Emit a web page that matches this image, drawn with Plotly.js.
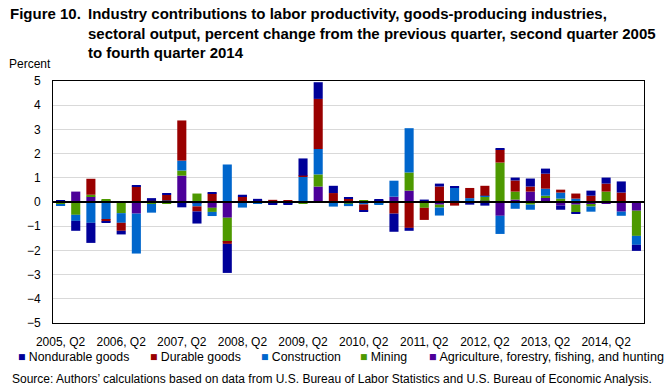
<!DOCTYPE html>
<html>
<head>
<meta charset="utf-8">
<script src="https://cdn.plot.ly/plotly-3.0.1.min.js"></script>
<style>
html,body{margin:0;padding:0;background:#fff;}
#chart{width:671px;height:391px;}
</style>
</head>
<body>
<div id="chart"></div>
<script>
// Quarters: 2005 Q2 .. 2014 Q4
const quarters = [
  "2005, Q2","2005, Q3","2005, Q4",
  "2006, Q1","2006, Q2","2006, Q3","2006, Q4",
  "2007, Q1","2007, Q2","2007, Q3","2007, Q4",
  "2008, Q1","2008, Q2","2008, Q3","2008, Q4",
  "2009, Q1","2009, Q2","2009, Q3","2009, Q4",
  "2010, Q1","2010, Q2","2010, Q3","2010, Q4",
  "2011, Q1","2011, Q2","2011, Q3","2011, Q4",
  "2012, Q1","2012, Q2","2012, Q3","2012, Q4",
  "2013, Q1","2013, Q2","2013, Q3","2013, Q4",
  "2014, Q1","2014, Q2","2014, Q3","2014, Q4"
];
const tickLabels = ["2005, Q2","2006, Q2","2007, Q2","2008, Q2","2009, Q2",
                    "2010, Q2","2011, Q2","2012, Q2","2013, Q2","2014, Q2"];
const yTicks = [-5,-4,-3,-2,-1,0,1,2,3,4,5];

const nondurable = [0.04,-0.41,-0.83,-0.04,-0.15,0.04,0.11,0.05,-0.22,-0.50,0.04,-1.20,0.08,0.08,-0.03,-0.04,0.71,0.69,0.30,0.04,-0.04,0.04,-0.75,-0.12,0.10,0.12,0.04,-0.11,-0.15,0.04,0.12,0.33,0.21,-0.17,-0.04,0.21,0.25,0.46,-0.25];
const durable    = [0.02,0.00,0.66,-0.08,-0.33,0.60,0.05,0.24,1.66,-0.21,0.35,-0.08,0.22,0.04,0.09,0.05,0.05,2.07,0.37,0.11,-0.25,0.05,-0.48,-1.07,-0.50,0.64,-0.15,0.42,0.41,0.54,0.46,0.21,0.62,0.12,0.21,0.26,0.33,0.39,0.00];
const construction = [-0.07,-0.25,-0.86,-0.73,-0.40,-1.65,-0.36,0.02,0.41,-0.13,-0.17,1.55,-0.19,-0.06,-0.02,-0.03,1.04,1.05,-0.19,-0.10,-0.10,-0.05,0.66,1.83,0.00,-0.33,0.54,0.12,0.04,-0.75,-0.28,-0.21,0.29,0.25,0.14,-0.21,0.00,-0.17,-0.37];
const mining     = [-0.06,-0.53,0.08,0.04,-0.46,0.04,-0.06,-0.07,0.21,0.35,-0.17,-1.00,-0.04,0.01,-0.04,-0.04,-0.06,0.50,0.00,-0.07,0.05,-0.05,0.00,0.75,-0.24,-0.12,0.00,0.04,0.17,1.63,0.33,-0.11,0.08,0.14,-0.33,-0.08,0.43,0.00,-1.04];
const agriculture = [-0.03,0.43,0.22,0.05,0.00,-0.48,-0.02,0.04,1.09,-0.05,-0.24,-0.65,0.00,0.00,0.00,0.00,0.00,0.64,0.00,0.02,0.00,0.00,0.22,0.47,0.00,-0.11,0.05,0.00,0.05,-0.57,0.10,0.43,0.18,-0.15,-0.11,-0.11,-0.06,-0.40,-0.36];

const seriesNames = ["Nondurable goods","Durable goods","Construction","Mining","Agriculture, forestry, fishing, and hunting"];
const seriesColors = ["#000099","#990000","#0066CC","#4D9900","#4C0099"];
const seriesValues = [nondurable, durable, construction, mining, agriculture];

const FONT = "'Liberation Sans', Arial, sans-serif";

// stacking order from zero outward: agriculture, mining, construction, durable, nondurable
const order = [4,3,2,1,0];
const traces = order.map(i => ({
  type: "bar",
  name: seriesNames[i],
  x: quarters,
  y: seriesValues[i],
  marker: {color: seriesColors[i], line: {width: 0}},
  showlegend: false,
  hoverinfo: "x+y+name"
}));

// pixel helpers for placing page texts (plot area: x 53..644, y 81..323)
const px = v => (v - 53) / 591;
const py = v => (323 - v) / 242;

const legendX = [16, 148, 259, 358, 427];
const legendSize = [12.3, 12.3, 12.3, 12.3, 12.6];
const annotations = [
  {text: "Figure 10.", xref: "paper", yref: "paper", x: px(8), y: py(3),
   xanchor: "left", yanchor: "top", showarrow: false, align: "left",
   font: {family: FONT, size: 15, color: "#000", weight: "bold"}},
  {text: "Industry contributions to labor productivity, goods-producing industries,<br>sectoral output, percent change from the previous quarter, second quarter 2005<br>to fourth quarter 2014",
   xref: "paper", yref: "paper", x: px(86), y: py(3),
   xanchor: "left", yanchor: "top", showarrow: false, align: "left",
   font: {family: FONT, size: 15, color: "#000", weight: "bold"}},
  {text: "Percent", xref: "paper", yref: "paper", x: px(7), y: py(64),
   xanchor: "left", yanchor: "middle", showarrow: false,
   font: {family: FONT, size: 12, color: "#000"}},
  {text: "Source: Authors\u2019 calculations based on data from U.S. Bureau of Labor Statistics and U.S. Bureau of Economic Analysis.",
   xref: "paper", yref: "paper", x: px(10), y: py(379),
   xanchor: "left", yanchor: "middle", showarrow: false,
   font: {family: FONT, size: 12, color: "#000"}}
];
seriesNames.forEach((n, i) => {
  annotations.push({
    text: '<span style="color:' + seriesColors[i] + '">\u25A0</span> ' + n,
    xref: "paper", yref: "paper", x: px(legendX[i]), y: py(357),
    xanchor: "left", yanchor: "middle", showarrow: false,
    font: {family: FONT, size: legendSize[i], color: "#000"}
  });
});

const layout = {
  width: 671, height: 391,
  margin: {l: 53, r: 27, t: 81, b: 68, pad: 0},
  paper_bgcolor: "#fff", plot_bgcolor: "#fff",
  barmode: "relative",
  bargap: 0.4,
  showlegend: false,
  font: {family: FONT, size: 12, color: "#000"},
  xaxis: {
    type: "category",
    tickmode: "array",
    tickvals: tickLabels,
    ticktext: tickLabels,
    showgrid: false, zeroline: false,
    showline: true, linecolor: "#000", linewidth: 1, mirror: true,
    ticks: "", ticklabelstandoff: 8,
    tickfont: {family: FONT, size: 12, color: "#000"},
    fixedrange: true
  },
  yaxis: {
    range: [-5, 5],
    tickmode: "array", tickvals: yTicks,
    showgrid: true, gridcolor: "#d9d9d9", gridwidth: 1,
    zeroline: false,
    showline: true, linecolor: "#000", linewidth: 1, mirror: true,
    ticks: "", ticklabelstandoff: 9,
    tickfont: {family: FONT, size: 12, color: "#000"},
    fixedrange: true
  },
  shapes: [{
    type: "line", xref: "paper", yref: "y", x0: 0, x1: 1, y0: 0, y1: 0,
    line: {color: "#000", width: 2}, layer: "above"
  }],
  annotations: annotations
};

Plotly.newPlot("chart", traces, layout, {displayModeBar: false, responsive: false});
</script>
</body>
</html>
